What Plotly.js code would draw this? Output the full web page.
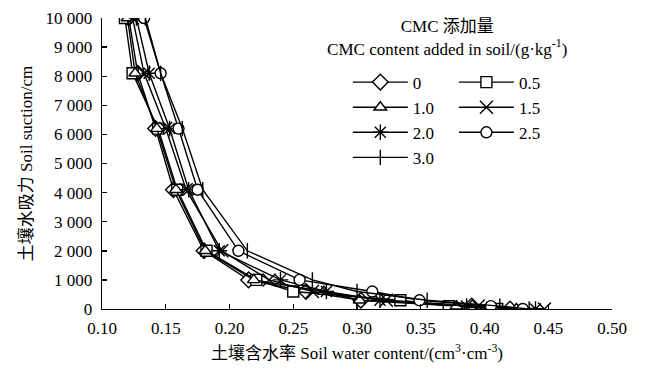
<!DOCTYPE html>
<html>
<head>
<meta charset="utf-8">
<script src="https://cdn.plot.ly/plotly-3.0.1.min.js"></script>
<style>html,body{margin:0;padding:0;background:#fff;}#chart{width:646px;height:369px;}</style>
</head>
<body>
<div id="chart"></div>
<script>
// Soil suction levels (cm)
const suction = [10000, 8100, 6200, 4100, 2000, 1000, 600, 300, 100, 0];
// Soil water content (cm3/cm3) for each CMC addition (g/kg)
const cmcLabels = ["0", "0.5", "1.0", "1.5", "2.0", "2.5", "3.0"];
const wc_0   = [0.121, 0.128, 0.142, 0.156, 0.180, 0.215, 0.260, 0.303, 0.390, 0.420];
const wc_05  = [0.118, 0.124, 0.144, 0.159, 0.182, 0.221, 0.250, 0.334, 0.372, 0.410];
const wc_10  = [0.120, 0.126, 0.143, 0.158, 0.181, 0.219, 0.274, 0.302, 0.378, 0.425];
const wc_15  = [0.124, 0.133, 0.150, 0.166, 0.194, 0.231, 0.265, 0.323, 0.395, 0.447];
const wc_20  = [0.127, 0.137, 0.153, 0.168, 0.192, 0.240, 0.276, 0.318, 0.386, 0.440];
const wc_25  = [0.133, 0.146, 0.160, 0.175, 0.207, 0.255, 0.312, 0.349, 0.405, 0.430];
const wc_30  = [0.134, 0.146, 0.163, 0.179, 0.214, 0.265, 0.300, 0.355, 0.412, 0.435];
const xTicks = [0.10, 0.15, 0.20, 0.25, 0.30, 0.35, 0.40, 0.45, 0.50];

const seriesX = [wc_0, wc_05, wc_10, wc_15, wc_20, wc_25, wc_30];
const symbols = ["diamond", "square", "triangle-up", "x-thin-open", "asterisk-open", "circle", "line-ns-open"];
const fills   = ["#fff", "#fff", "#fff", "#000", "#000", "#fff", "#000"];
const sizes = [12, 11, 11, 13, 13, 11, 11];
const legendOf = ["legend", "legend2", "legend", "legend2", "legend", "legend2", "legend"];

const traces = seriesX.map((xs, i) => ({
  x: xs, y: suction, type: "scatter", mode: "lines+markers",
  name: cmcLabels[i], legend: legendOf[i],
  line: {color: "#000", width: 1.4},
  marker: {symbol: symbols[i], size: sizes[i], color: fills[i], line: {color: "#000", width: 1.4}}
}));

const font = {family: "Liberation Serif, 'Noto Sans CJK SC', serif", color: "#000", size: 17};
const legendCommon = {
  bgcolor: "rgba(0,0,0,0)", borderwidth: 0, font: font,
  itemwidth: 55, tracegroupgap: 0, traceorder: "normal",
  xanchor: "left", yanchor: "top"
};

const layout = {
  width: 646, height: 369,
  margin: {l: 102, r: 34, t: 18, b: 60},
  paper_bgcolor: "#fff", plot_bgcolor: "#fff",
  font: font, separators: ". ",
  showlegend: true,
  title: {
    text: "CMC 添加量<br>CMC content added in soil/(g·kg<sup>-1</sup>)",
    font: font, xref: "paper", x: 0.677, xanchor: "center",
    yref: "container", y: 0.912, yanchor: "top"
  },
  xaxis: {
    range: [0.10, 0.50], tickvals: xTicks, tickformat: ".2f",
    showgrid: false, zeroline: false, showline: true, linecolor: "#000", linewidth: 1.4,
    ticks: "inside", ticklen: 5, tickcolor: "#000", tickwidth: 1.4,
    tickfont: font, ticklabelstandoff: 3,
    title: {text: "土壤含水率 Soil water content/(cm<sup>3</sup>·cm<sup>-3</sup>)", font: font, standoff: 10}
  },
  yaxis: {
    range: [0, 10000], dtick: 1000, tickformat: ",d",
    showgrid: false, zeroline: false, showline: true, linecolor: "#000", linewidth: 1.4,
    ticks: "inside", ticklen: 5, tickcolor: "#000", tickwidth: 1.4,
    tickfont: font, ticklabelstandoff: 5,
    title: {text: "土壤水吸力 Soil suction/cm", font: font, standoff: 8}
  },
  legend: Object.assign({x: 0.482, y: 0.84}, legendCommon),
  legend2: Object.assign({x: 0.69, y: 0.84}, legendCommon)
};

Plotly.newPlot("chart", traces, layout, {displayModeBar: false, staticPlot: true});
</script>
</body>
</html>
